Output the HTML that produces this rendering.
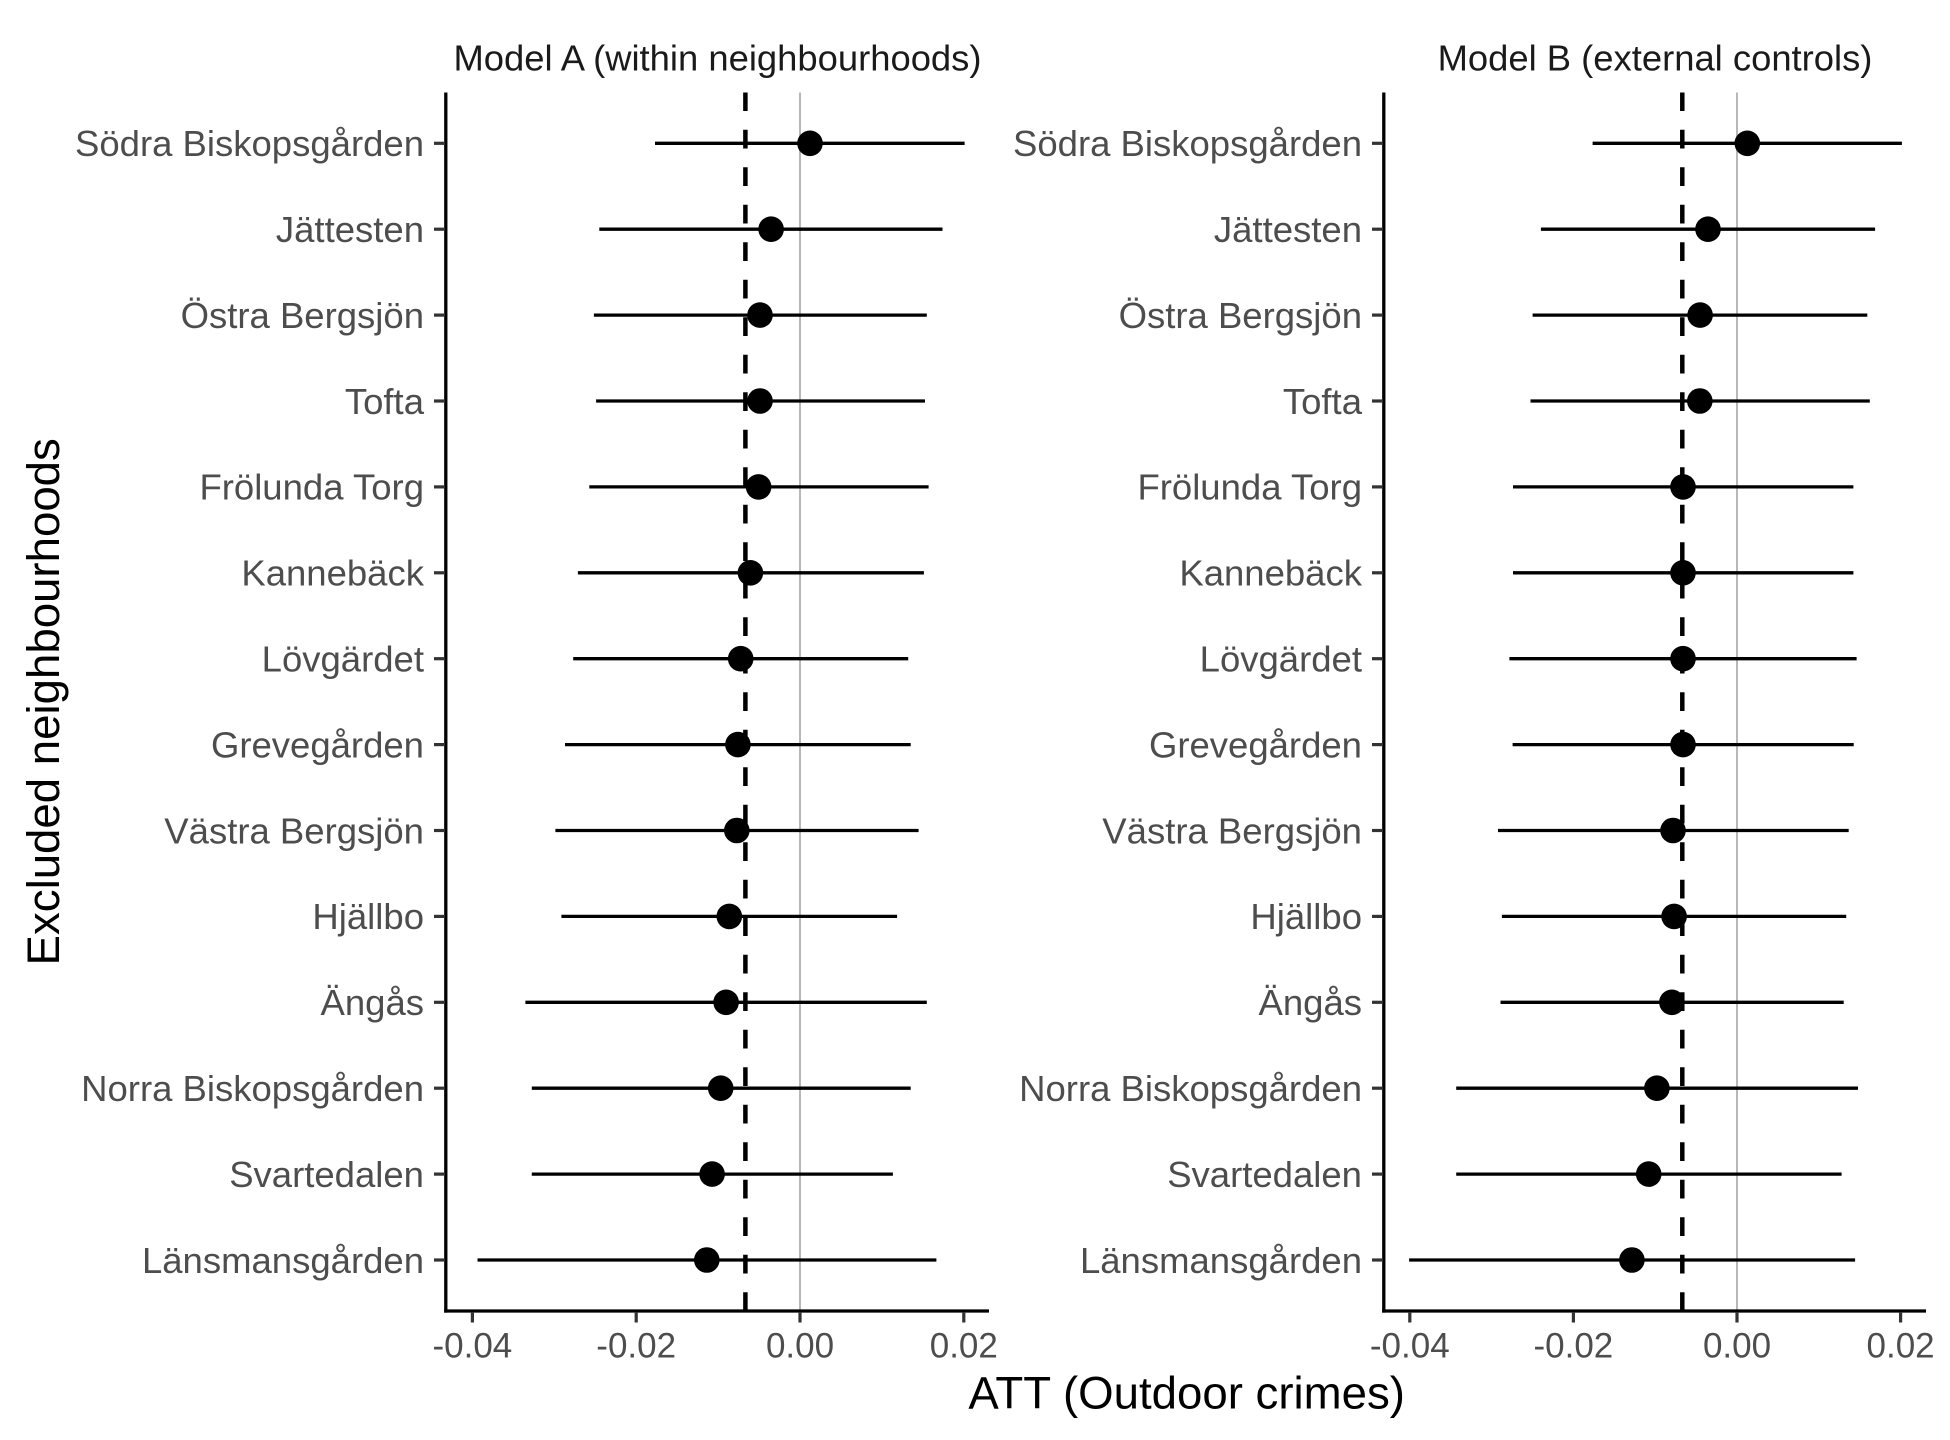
<!DOCTYPE html>
<html>
<head>
<meta charset="utf-8">
<style>
  html,body{margin:0;padding:0;background:#fff;}
  svg{display:block;}
  text{font-family:"Liberation Sans", Arial, sans-serif;}
  .yl{font-size:36.5px;fill:#4D4D4D;text-anchor:end;}
  .xl{font-size:35px;fill:#4D4D4D;text-anchor:middle;}
  .st{font-size:36.4px;fill:#1A1A1A;text-anchor:middle;}
  .at{font-size:45.6px;fill:#000;text-anchor:middle;}
  .bar{stroke:#000;stroke-width:3.3;}
  .tk{stroke:#333;stroke-width:3.2;}
  .ax{stroke:#000;stroke-width:3.3;}
</style>
</head>
<body>
<svg width="1950" height="1440" viewBox="0 0 1950 1440" xmlns="http://www.w3.org/2000/svg">
<rect width="1950" height="1440" fill="#fff"/>

<!-- Strip titles -->
<text class="st" x="717.5" y="70.7">Model A (within neighbourhoods)</text>
<text class="st" x="1655" y="70.7">Model B (external controls)</text>

<!-- ===== Panel A ===== -->
<line x1="800" y1="92.5" x2="800" y2="1311" stroke="#B8B8B8" stroke-width="2"/>
<g class="bar">
<line x1="655" y1="143.3" x2="964.6" y2="143.3"/>
<line x1="599.3" y1="229.2" x2="942.5" y2="229.2"/>
<line x1="593.9" y1="315.1" x2="926.8" y2="315.1"/>
<line x1="596.1" y1="401.0" x2="925" y2="401.0"/>
<line x1="589.3" y1="486.9" x2="928.6" y2="486.9"/>
<line x1="577.9" y1="572.8" x2="923.9" y2="572.8"/>
<line x1="573.2" y1="658.7" x2="908.2" y2="658.7"/>
<line x1="565" y1="744.6" x2="910.7" y2="744.6"/>
<line x1="555.4" y1="830.5" x2="918.6" y2="830.5"/>
<line x1="561.4" y1="916.4" x2="897.1" y2="916.4"/>
<line x1="525.4" y1="1002.3" x2="926.8" y2="1002.3"/>
<line x1="531.8" y1="1088.2" x2="910.7" y2="1088.2"/>
<line x1="531.8" y1="1174.1" x2="892.9" y2="1174.1"/>
<line x1="477.5" y1="1260.0" x2="936.4" y2="1260.0"/>
</g>
<line x1="745.4" y1="1311" x2="745.4" y2="92.5" stroke="#000" stroke-width="4.5" stroke-dasharray="18.75 18.75"/>
<g fill="#000">
<circle cx="810" cy="143.3" r="12.8"/>
<circle cx="771.1" cy="229.2" r="12.8"/>
<circle cx="760" cy="315.1" r="12.8"/>
<circle cx="760" cy="401.0" r="12.8"/>
<circle cx="758.6" cy="486.9" r="12.8"/>
<circle cx="750.4" cy="572.8" r="12.8"/>
<circle cx="740.7" cy="658.7" r="12.8"/>
<circle cx="737.9" cy="744.6" r="12.8"/>
<circle cx="736.8" cy="830.5" r="12.8"/>
<circle cx="729.3" cy="916.4" r="12.8"/>
<circle cx="726.1" cy="1002.3" r="12.8"/>
<circle cx="720.7" cy="1088.2" r="12.8"/>
<circle cx="712.1" cy="1174.1" r="12.8"/>
<circle cx="706.8" cy="1260.0" r="12.8"/>
</g>
<!-- axes A -->
<line class="ax" x1="445.8" y1="92.5" x2="445.8" y2="1312.6"/>
<line class="ax" x1="444.2" y1="1311" x2="989" y2="1311"/>
<g class="tk">
<line x1="434" y1="143.3" x2="445" y2="143.3"/>
<line x1="434" y1="229.2" x2="445" y2="229.2"/>
<line x1="434" y1="315.1" x2="445" y2="315.1"/>
<line x1="434" y1="401.0" x2="445" y2="401.0"/>
<line x1="434" y1="486.9" x2="445" y2="486.9"/>
<line x1="434" y1="572.8" x2="445" y2="572.8"/>
<line x1="434" y1="658.7" x2="445" y2="658.7"/>
<line x1="434" y1="744.6" x2="445" y2="744.6"/>
<line x1="434" y1="830.5" x2="445" y2="830.5"/>
<line x1="434" y1="916.4" x2="445" y2="916.4"/>
<line x1="434" y1="1002.3" x2="445" y2="1002.3"/>
<line x1="434" y1="1088.2" x2="445" y2="1088.2"/>
<line x1="434" y1="1174.1" x2="445" y2="1174.1"/>
<line x1="434" y1="1260.0" x2="445" y2="1260.0"/>
<line x1="472.4" y1="1312" x2="472.4" y2="1322.5"/>
<line x1="636.2" y1="1312" x2="636.2" y2="1322.5"/>
<line x1="800" y1="1312" x2="800" y2="1322.5"/>
<line x1="963.8" y1="1312" x2="963.8" y2="1322.5"/>
</g>
<g class="yl">
<text x="424" y="156.1">Södra Biskopsgården</text>
<text x="424" y="242.0">Jättesten</text>
<text x="424" y="327.9">Östra Bergsjön</text>
<text x="424" y="413.8">Tofta</text>
<text x="424" y="499.7">Frölunda Torg</text>
<text x="424" y="585.6">Kannebäck</text>
<text x="424" y="671.5">Lövgärdet</text>
<text x="424" y="757.4">Grevegården</text>
<text x="424" y="843.3">Västra Bergsjön</text>
<text x="424" y="929.2">Hjällbo</text>
<text x="424" y="1015.1">Ängås</text>
<text x="424" y="1101.0">Norra Biskopsgården</text>
<text x="424" y="1186.9">Svartedalen</text>
<text x="424" y="1272.8">Länsmansgården</text>
</g>
<g class="xl">
<text x="472.4" y="1357.5">-0.04</text>
<text x="636.2" y="1357.5">-0.02</text>
<text x="800" y="1357.5">0.00</text>
<text x="963.8" y="1357.5">0.02</text>
</g>

<!-- ===== Panel B ===== -->
<line x1="1737" y1="92.5" x2="1737" y2="1311" stroke="#B8B8B8" stroke-width="2"/>
<g class="bar">
<line x1="1592.6" y1="143.3" x2="1901.9" y2="143.3"/>
<line x1="1540.9" y1="229.2" x2="1875.1" y2="229.2"/>
<line x1="1532.6" y1="315.1" x2="1867.3" y2="315.1"/>
<line x1="1530.5" y1="401.0" x2="1869.8" y2="401.0"/>
<line x1="1513" y1="486.9" x2="1853.4" y2="486.9"/>
<line x1="1513" y1="572.8" x2="1853.4" y2="572.8"/>
<line x1="1509.4" y1="658.7" x2="1856.6" y2="658.7"/>
<line x1="1512.6" y1="744.6" x2="1853.7" y2="744.6"/>
<line x1="1498" y1="830.5" x2="1848.7" y2="830.5"/>
<line x1="1501.9" y1="916.4" x2="1846.2" y2="916.4"/>
<line x1="1500.5" y1="1002.3" x2="1843.7" y2="1002.3"/>
<line x1="1456.2" y1="1088.2" x2="1858" y2="1088.2"/>
<line x1="1456.2" y1="1174.1" x2="1841.6" y2="1174.1"/>
<line x1="1409.1" y1="1260.0" x2="1855.1" y2="1260.0"/>
</g>
<line x1="1682.3" y1="1311" x2="1682.3" y2="92.5" stroke="#000" stroke-width="4.5" stroke-dasharray="18.75 18.75"/>
<g fill="#000">
<circle cx="1747.3" cy="143.3" r="12.8"/>
<circle cx="1708" cy="229.2" r="12.8"/>
<circle cx="1700.1" cy="315.1" r="12.8"/>
<circle cx="1699.8" cy="401.0" r="12.8"/>
<circle cx="1683" cy="486.9" r="12.8"/>
<circle cx="1683" cy="572.8" r="12.8"/>
<circle cx="1683" cy="658.7" r="12.8"/>
<circle cx="1683" cy="744.6" r="12.8"/>
<circle cx="1673" cy="830.5" r="12.8"/>
<circle cx="1674.1" cy="916.4" r="12.8"/>
<circle cx="1671.9" cy="1002.3" r="12.8"/>
<circle cx="1656.9" cy="1088.2" r="12.8"/>
<circle cx="1648.7" cy="1174.1" r="12.8"/>
<circle cx="1631.9" cy="1260.0" r="12.8"/>
</g>
<!-- axes B -->
<line class="ax" x1="1383.8" y1="92.5" x2="1383.8" y2="1312.6"/>
<line class="ax" x1="1382.2" y1="1311" x2="1926" y2="1311"/>
<g class="tk">
<line x1="1372" y1="143.3" x2="1383" y2="143.3"/>
<line x1="1372" y1="229.2" x2="1383" y2="229.2"/>
<line x1="1372" y1="315.1" x2="1383" y2="315.1"/>
<line x1="1372" y1="401.0" x2="1383" y2="401.0"/>
<line x1="1372" y1="486.9" x2="1383" y2="486.9"/>
<line x1="1372" y1="572.8" x2="1383" y2="572.8"/>
<line x1="1372" y1="658.7" x2="1383" y2="658.7"/>
<line x1="1372" y1="744.6" x2="1383" y2="744.6"/>
<line x1="1372" y1="830.5" x2="1383" y2="830.5"/>
<line x1="1372" y1="916.4" x2="1383" y2="916.4"/>
<line x1="1372" y1="1002.3" x2="1383" y2="1002.3"/>
<line x1="1372" y1="1088.2" x2="1383" y2="1088.2"/>
<line x1="1372" y1="1174.1" x2="1383" y2="1174.1"/>
<line x1="1372" y1="1260.0" x2="1383" y2="1260.0"/>
<line x1="1409.8" y1="1312" x2="1409.8" y2="1322.5"/>
<line x1="1573.4" y1="1312" x2="1573.4" y2="1322.5"/>
<line x1="1737" y1="1312" x2="1737" y2="1322.5"/>
<line x1="1900.6" y1="1312" x2="1900.6" y2="1322.5"/>
</g>
<g class="yl">
<text x="1362" y="156.1">Södra Biskopsgården</text>
<text x="1362" y="242.0">Jättesten</text>
<text x="1362" y="327.9">Östra Bergsjön</text>
<text x="1362" y="413.8">Tofta</text>
<text x="1362" y="499.7">Frölunda Torg</text>
<text x="1362" y="585.6">Kannebäck</text>
<text x="1362" y="671.5">Lövgärdet</text>
<text x="1362" y="757.4">Grevegården</text>
<text x="1362" y="843.3">Västra Bergsjön</text>
<text x="1362" y="929.2">Hjällbo</text>
<text x="1362" y="1015.1">Ängås</text>
<text x="1362" y="1101.0">Norra Biskopsgården</text>
<text x="1362" y="1186.9">Svartedalen</text>
<text x="1362" y="1272.8">Länsmansgården</text>
</g>
<g class="xl">
<text x="1409.8" y="1357.5">-0.04</text>
<text x="1573.4" y="1357.5">-0.02</text>
<text x="1737" y="1357.5">0.00</text>
<text x="1900.6" y="1357.5">0.02</text>
</g>

<!-- Axis titles -->
<text class="at" x="1186.7" y="1408.5">ATT (Outdoor crimes)</text>
<text class="at" transform="translate(59,701.8) rotate(-90)" x="0" y="0">Excluded neighbourhoods</text>
</svg>
</body>
</html>
